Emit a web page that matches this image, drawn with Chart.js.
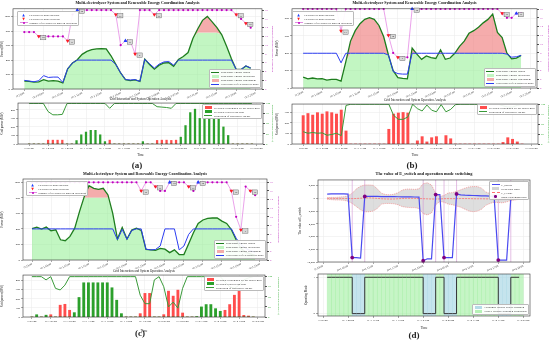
<!DOCTYPE html>
<html lang="en">
<head>
<meta charset="UTF-8">
<title>Multi-electrolyzer System and Renewable Energy Coordination Analysis</title>
<script src="https://cdn.jsdelivr.net/npm/chart.js"></script>
<style>
  html, body { margin: 0; padding: 0; }
  body { position: relative; width: 550px; height: 345px; overflow: hidden; background: #fff; font-family: "Liberation Serif", serif; color: #222; }
  canvas { position: absolute; }
  .tag { position: absolute; font-size: 9px; font-weight: bold; transform: translateX(-50%); line-height: 1; }
  .leg { position: absolute; background: rgba(255,255,255,0.92); border: 0.5px solid #bbb; border-radius: 1px; padding: 0.6px 1.5px; font-size: 2.9px; white-space: nowrap; }
  .leg div { display: flex; align-items: center; height: 4px; }
  .sw { position: relative; flex: none; width: 8px; height: 4px; margin-right: 1.5px; }
  .sw.line::after { content: ""; position: absolute; left: 0; right: 0; top: 1.5px; height: 1.1px; background: var(--c); }
  .sw.dash::after { content: ""; position: absolute; left: 0; right: 0; top: 1.6px; border-top: 0.8px dashed var(--c); }
  .sw.box::after { content: ""; position: absolute; left: 0.5px; right: 0.5px; top: 0.6px; height: 2.8px; background: var(--c); }
  .sw.dotline::after { content: ""; position: absolute; left: 0; right: 0; top: 1.6px; height: 0.8px; background: var(--c); }
  .sw.dotline::before { content: ""; position: absolute; left: 3px; top: 1px; width: 2px; height: 2px; border-radius: 50%; background: #c000c0; z-index: 1; }
  .sw.dot::after { content: ""; position: absolute; left: 2.8px; top: 0.8px; width: 2.4px; height: 2.4px; border-radius: 50%; background: var(--c); }
  .sw.up, .sw.down { color: var(--c); font-family: "DejaVu Sans", sans-serif; font-size: 3.4px; text-align: center; line-height: 4px; }
</style>
</head>
<body>
<canvas id="aTop" width="274" height="99" style="left:0;top:0"></canvas>
<canvas id="aGrid" width="274" height="62" style="left:0;top:95px"></canvas>
<canvas id="bTop" width="275" height="99" style="left:275px;top:0"></canvas>
<canvas id="bGrid" width="275" height="62" style="left:275px;top:95px"></canvas>
<canvas id="cTop" width="280" height="99" style="left:0;top:170px"></canvas>
<canvas id="cGrid" width="280" height="68" style="left:0;top:265px"></canvas>
<canvas id="dTop" width="270" height="104" style="left:280px;top:170px"></canvas>
<canvas id="dMode" width="270" height="62" style="left:280px;top:268px"></canvas>
<div class="tag" style="left:137px;top:161px">(a)</div>
<div class="tag" style="left:412px;top:161px">(b)</div>
<div class="tag" style="left:140px;top:329px">(c)</div>
<div class="tag" style="left:414px;top:331px">(d)</div>
<script>
// time axis labels
const timeTicks = ['D 23:00', 'D+1 03:00', 'D+1 07:00', 'D+1 11:00', 'D+1 15:00', 'D+1 19:00', 'D+1 23:00',
  'D+2 03:00', 'D+2 07:00', 'D+2 11:00', 'D+2 15:00', 'D+2 19:00', 'D+2 23:00'];
const dTimeTicks = ['D 23:00', 'D+1 05:00', 'D+1 11:00', 'D+1 17:00', 'D+1 23:00', 'D+2 05:00', 'D+2 11:00', 'D+2 17:00', 'D+2 23:00'];
const hours = [0, 1, 2, 3, 4, 5, 6, 7, 8, 9, 10, 11, 12, 13, 14, 15, 16, 17, 18, 19, 20, 21, 22, 23,
  24, 25, 26, 27, 28, 29, 30, 31, 32, 33, 34, 35, 36, 37, 38, 39, 40, 41, 42, 43, 44, 45, 46, 47];
const hoursB = hours.slice(0, 47);
const dHours = hours.slice(1);

// (a) renewable output, utilization, electrolyzer power (MW), units in operation
const aGreen = [110, 105, 95, 100, 130, 110, 115, 110, 85, 280, 360, 405, 480, 520, 545, 555, 560, 555, 460, 340,
  222, 130, 115, 125, 105, 415, 340, 275, 330, 360, 365, 315, 410, 450, 505, 700, 830, 950, 1005, 930, 850, 750, 590, 420, 270, 270, 320, 290];
const aUtil = [110, 105, 95, 100, 130, 110, 115, 110, 85, 280, 360, 405, 480, 520, 545, 555, 560, 555, 460, 340,
  222, 130, 115, 125, 105, 415, 340, 275, 330, 360, 365, 315, 410, 450, 505, 700, 780, 780, 780, 780, 780, 750, 590, 420, 270, 270, 320, 290];
const aBlue = [120, 110, 100, 115, 185, 160, 165, 165, 90, 280, 360, 400, 400, 400, 400, 400, 400, 400, 400, 340,
  222, 130, 125, 130, 105, 410, 350, 290, 345, 375, 380, 330, 400, 400, 400, 400, 400, 400, 400, 400, 400, 400, 400, 400, 270, 270, 320, 290];
const aUnits = [13, 13, 13, 12, 12, 12, 12, 12, 12, 11, 17, 18, 18, 18, 18, 18, 18, 18, 18, 17,
  10, 11, 11, 8, 18, 18, 18, 17, 18, 18, 18, 18, 18, 18, 18, 18, 18, 18, 18, 18, 18, 18, 18, 18, 17, 16, 15, 14];
const aUp = [11, 21];
const aDown = [3, 9, 19, 23, 27, 44, 46];
const aBuy = [0, 0, 0, 0, 45, 45, 45, 45, 0, 0, 0, 0, 0, 0, 0, 0, 0, 45, 0, 0,
  0, 0, 0, 0, 0, 0, 0, 42, 45, 45, 42, 45, 0, 0, 0, 0, 0, 0, 0, 0, 0, 0, 0, 0, 0, 0, 0, 0];
const aSell = [0, 0, 0, 0, 0, 0, 0, 0, 0, 0, 40, 108, 140, 160, 160, 108, 28, 0, 0, 0,
  0, 0, 0, 0, 28, 0, 0, 0, 0, 0, 0, 0, 80, 216, 368, 408, 300, 300, 300, 300, 300, 200, 100, 0, 0, 0, 0, 0];
const aShare = [100, 100, 100, 100, 80, 72, 72, 73, 100, 100, 100, 100, 100, 100, 100, 100, 100, 88, 100, 100,
  100, 100, 100, 100, 100, 100, 100, 92, 91, 90, 88, 100, 100, 100, 100, 100, 100, 100, 100, 100, 100, 100, 100, 100, 100, 100, 100, 100];

// (b)
const bGreen = [125, 105, 115, 105, 108, 90, 100, 100, 78, 300, 540, 660, 740, 790, 810, 790, 720, 590, 380, 200,
  120, 110, 105, 460, 390, 330, 370, 350, 340, 440, 330, 345, 400, 480, 540, 630, 660, 700, 750, 790, 850, 640, 580, 400, 335, 345, 375];
const bUtil = [125, 105, 115, 105, 108, 90, 100, 100, 78, 300, 400, 400, 400, 400, 400, 400, 400, 400, 380, 190,
  120, 110, 105, 400, 390, 330, 370, 350, 340, 400, 330, 345, 400, 400, 400, 400, 400, 400, 400, 400, 400, 400, 400, 390, 335, 345, 375];
const bBlue = [400, 400, 400, 400, 400, 400, 400, 400, 290, 400, 400, 400, 400, 400, 400, 400, 400, 400, 380, 190,
  165, 160, 160, 400, 400, 400, 400, 400, 400, 400, 400, 400, 400, 400, 400, 400, 400, 400, 400, 400, 400, 400, 400, 390, 355, 360, 375];
const bUnits = [18, 18, 18, 18, 18, 18, 18, 18, 13, 18, 18, 18, 18, 18, 18, 18, 18, 18, 12, 8,
  7, 7, 7, 18, 18, 18, 18, 18, 18, 18, 18, 18, 18, 18, 18, 18, 18, 18, 18, 18, 18, 18, 17, 16, 16, 17, 17];
const bUp = [23, 45];
const bDown = [8, 18, 20, 42];
const bBuy = [270, 290, 275, 298, 285, 307, 298, 285, 323, 124, 0, 0, 0, 0, 0, 0, 0, 0, 140, 285,
  295, 300, 295, 0, 30, 70, 20, 60, 70, 0, 80, 50, 0, 0, 0, 0, 0, 0, 0, 0, 0, 0, 15, 60, 45, 20, 0];
const bShare = [31, 27, 29, 27, 28, 22, 24, 27, 21, 97, 100, 100, 100, 100, 100, 100, 100, 100, 100, 72,
  62, 62, 68, 100, 89, 83, 98, 85, 81, 99, 81, 87, 99, 100, 100, 100, 100, 100, 100, 100, 100, 100, 96, 93, 93, 97, 100];

// (c)
const cGreen = [405, 423, 397, 423, 376, 389, 260, 248, 303, 410, 623, 815, 956, 922, 909, 922, 837, 600, 270, 420,
  270, 385, 410, 380, 135, 130, 125, 150, 140, 95, 130, 70, 70, 210, 350, 470, 515, 535, 540, 540, 500, 470, 390, 260, 150, 100, 80, 60];
const cUtil = [405, 423, 397, 423, 376, 389, 260, 248, 303, 410, 623, 800, 800, 800, 800, 800, 800, 600, 270, 420,
  270, 385, 410, 380, 135, 130, 125, 150, 140, 95, 130, 70, 70, 210, 350, 470, 515, 535, 540, 540, 500, 470, 390, 260, 150, 100, 80, 60];
const cBlue = [400, 400, 400, 400, 400, 400, 400, 400, 400, 400, 400, 400, 400, 400, 400, 400, 400, 400, 260, 395,
  265, 380, 400, 400, 140, 130, 135, 180, 400, 400, 400, 130, 180, 330, 400, 400, 400, 400, 400, 400, 400, 400, 400, 280, 200, 150, 120, 100];
const cUnits = [18, 18, 18, 18, 18, 18, 18, 18, 18, 18, 18, 18, 18, 18, 18, 18, 18, 18, 18, 18,
  18, 18, 18, 16, 18, 18, 17, 16, 16, 18, 18, 18, 18, 17, 16, 18, 18, 18, 18, 18, 18, 18, 16, 10, 7, 17, 16, 15];
const cUp = [29, 35];
const cDown = [23, 26, 33, 42, 44, 46];
const cBuy = [0, 0, 0, 0, 25, 0, 130, 140, 74, 0, 0, 0, 0, 0, 0, 0, 0, 0, 0, 0,
  0, 0, 0, 37, 260, 260, 0, 0, 26, 285, 230, 296, 44, 0, 0, 0, 0, 0, 0, 0, 0, 74, 137, 240, 290, 18, 11, 0];
const cSell = [0, 25, 0, 20, 0, 0, 0, 0, 0, 48, 215, 377, 377, 377, 377, 377, 377, 322, 185, 37,
  0, 0, 0, 0, 0, 0, 0, 0, 0, 0, 0, 0, 0, 0, 0, 5, 111, 137, 137, 92, 63, 0, 0, 0, 0, 0, 0, 0];
const cShare = [100, 100, 100, 92, 100, 71, 67, 79, 100, 100, 100, 100, 100, 100, 100, 100, 100, 100, 100, 100,
  100, 100, 100, 54, 33, 33, 92, 100, 75, 25, 37, 22, 71, 100, 100, 100, 100, 100, 100, 100, 100, 87, 75, 71, 79, 92, 97, 100];

// (d) E_switch, hysteresis band, E_c and operating mode (hours 1..47)
const dSwitch = [650, 700, 720, 700, 690, 680, -9300, -9300, -9400, 300, 320, 300, 300, 280, 280, 270, 260, 250, 240, 230,
  220, 210, 200, -9800, -9500, -9500, 600, 600, -9300, -9300, -9300, 700, 550, 500, 480, 450, 420, 400, 380, 350,
  300, -9700, -9700, -9700, 0, null, null];
const dUpper = [100, 150, 150, 200, 250, 400, 800, 1500, 1900, 2100, 2100, 2050, 1500, 800, 600, 550, 650, 900, 1300, 1450,
  1450, 1400, 1500, 2300, 2450, 2100, 800, 300, 450, 850, 900, 1100, 1350, 1600, 1800, 1850, 1850, 1600, 1000, 750,
  550, 600, 700, 500, 350, 200, 100];
const dLower = [-150, -200, -250, -250, -300, -450, -800, -1300, -1800, -2100, -2100, -2000, -1600, -900, -800, -800, -850, -1000, -1300, -1400,
  -1450, -1450, -1600, -2400, -2600, -2300, -1000, -500, -600, -900, -1000, -1200, -1400, -1700, -2000, -2100, -2000, -1700, -1100, -800,
  -600, -650, -700, -550, -350, -250, -150];
const dEc = [0, 0, -10, -10, -20, -30, -40, -20, 20, 60, 80, 50, 0, -60, -90, -110, -100, -60, -20, 0,
  10, -10, -30, -50, -80, -100, -110, -90, -60, -40, -50, -40, -30, -30, -40, -60, -70, -60, -80, -90,
  -60, -50, -40, -40, -50, -40, -30];
const dMode = [1, 1, 1, 1, 1, 1, 0, 0, 0, 1, 1, 1, 1, 1, 1, 1, 1, 1, 1, 1,
  1, 1, 1, 0, 0, 0, 1, 1, 0, 0, 0, 1, 1, 1, 1, 1, 1, 1, 1, 1,
  1, 0, 0, 0, 1, 1, 1];
const dMarkHours = [7, 10, 24, 27, 29, 32, 41, 42];

const C = {
  green: '#1e7d1e', util: 'rgba(144,238,144,0.55)', curt: 'rgba(240,128,128,0.65)', blue: '#2b3cf0',
  units: '#e58ae5', unitsDot: '#c000c0', up: '#1f3fff', down: '#ff2020',
  buy: '#ff4d4d', sell: '#2ca02c', share: '#3a9a3a', mag: '#c03cc0', shareTxt: '#33aa33'
};

Chart.defaults.font.family = 'Liberation Serif';
Chart.defaults.color = '#222';

const pts = (xs, ys) => ys.map((y, i) => ({ x: xs[i], y }));
const marks = (xs, ys, at) => at.map(h => ({ x: h, y: ys[xs.indexOf(h)] }));
const range = (a, b, s) => { const r = []; for (let v = a; v <= b + 1e-9; v += s) r.push(+v.toFixed(6)); return r; };

// frame around the plot area
const framePlugin = {
  id: 'frame',
  afterDatasetsDraw(chart) {
    const a = chart.chartArea, ctx = chart.ctx;
    ctx.save();
    ctx.strokeStyle = '#333';
    ctx.lineWidth = 0.6;
    ctx.strokeRect(a.left, a.top, a.right - a.left, a.bottom - a.top);
    ctx.restore();
  }
};
// small grey boxes with the unit count next to each marker
const boxPlugin = {
  id: 'unitBoxes',
  afterDatasetsDraw(chart) {
    const ctx = chart.ctx;
    chart.data.datasets.forEach((ds, i) => {
      if (!ds.boxed) return;
      chart.getDatasetMeta(i).data.forEach((p, j) => {
        const x = p.x + 4.5, y = p.y + 1.2;
        ctx.save();
        ctx.fillStyle = '#d8d8d8';
        ctx.strokeStyle = '#555';
        ctx.lineWidth = 0.4;
        ctx.fillRect(x - 2.6, y - 2.2, 5.2, 4.4);
        ctx.strokeRect(x - 2.6, y - 2.2, 5.2, 4.4);
        ctx.fillStyle = '#111';
        ctx.font = '2.5px "Liberation Serif"';
        ctx.textAlign = 'center';
        ctx.textBaseline = 'middle';
        ctx.fillText(String(ds.data[j].y), x, y + 0.2);
        ctx.restore();
      });
    });
  }
};
// vertical marks at the mode switching times
const vlinePlugin = {
  id: 'vlines',
  beforeDatasetsDraw(chart, args, opts) {
    if (!opts || !opts.at) return;
    const ctx = chart.ctx, a = chart.chartArea, xs = chart.scales.x;
    ctx.save();
    ctx.strokeStyle = opts.color;
    ctx.lineWidth = 0.7;
    opts.at.forEach(h => {
      const px = xs.getPixelForValue(h);
      ctx.beginPath(); ctx.moveTo(px, a.top); ctx.lineTo(px, a.bottom); ctx.stroke();
    });
    ctx.restore();
  }
};
Chart.register(framePlugin, boxPlugin, vlinePlugin);

function xAxis(min, max, step, labels, rot, height, showTitle) {
  return {
    type: 'linear', min, max, offset: false,
    afterBuildTicks: s => { s.ticks = labels.map((_, k) => ({ value: k * step })); },
    ticks: { autoSkip: false, maxRotation: rot, minRotation: rot, padding: 0.5, font: { size: 2.8 }, color: '#222',
      callback: (v, i) => labels[i] },
    grid: { color: '#e9e9e9', lineWidth: 0.5, tickLength: 2, tickColor: '#555', offset: false },
    border: { display: false },
    title: { display: showTitle, text: 'Time', font: { size: 3.2 }, color: '#222', padding: { top: 0.5, bottom: 0 } },
    afterFit: s => { s.height = height; s.paddingLeft = 0; s.paddingRight = 0; }
  };
}
function yAxis(o) {
  return {
    position: o.pos, min: o.min, max: o.max,
    afterBuildTicks: s => { s.ticks = o.ticks.map(v => ({ value: v })); },
    ticks: { font: { size: 2.8 }, color: o.color || '#222', padding: 1, callback: o.fmt || (v => String(v)) },
    grid: o.grid ? { color: '#e9e9e9', lineWidth: 0.5, tickLength: 2, tickColor: '#555' }
                 : { drawOnChartArea: false, tickLength: 2, tickColor: '#555' },
    border: { display: false },
    title: { display: !!o.title, text: o.title, font: { size: o.tsize || 3 }, color: o.color || '#222', padding: { top: 0, bottom: 0.5 } },
    afterFit: s => { s.width = o.w; s.paddingTop = 0; s.paddingBottom = 0; }
  };
}
function baseOptions(pad, title, tsize, bold, scales, extra) {
  return {
    responsive: false, animation: false, devicePixelRatio: 1,
    layout: { padding: pad },
    plugins: Object.assign({
      legend: { display: false }, tooltip: { enabled: false },
      filler: { drawTime: 'beforeDatasetsDraw' },
      title: { display: !!title, text: title, fullSize: false, color: '#111',
        font: { size: tsize, weight: bold ? 'bold' : 'normal' }, padding: { top: 0, bottom: bold ? 3 : 2 } }
    }, extra || {}),
    scales
  };
}

const mainTitle = 'Multi-electrolyzer System and Renewable Energy Coordination Analysis';
const gridTitle = 'Grid Interaction and System Operation Analysis';

function energyChart(id, o) {
  new Chart(document.getElementById(id), {
    type: 'line',
    data: { datasets: [
      { label: 'Renewable energy utilization', data: pts(o.x, o.util), borderWidth: 0, pointRadius: 0,
        backgroundColor: C.util, fill: 'origin', order: 6 },
      { label: 'Renewable energy output', data: pts(o.x, o.green), borderColor: C.green, borderWidth: 1.3, pointRadius: 0,
        backgroundColor: C.curt, fill: { target: 0, above: C.curt, below: 'rgba(0,0,0,0)' }, order: 5 },
      { label: 'Total power of electrolyzer units', data: pts(o.x, o.blue), borderColor: C.blue, borderWidth: 1,
        pointRadius: 0, fill: false, order: 4 },
      { label: 'Number of electrolyzer units in operation', yAxisID: 'y1', data: pts(o.x, o.units), borderColor: C.units,
        borderWidth: 0.8, pointRadius: 1.1, pointBackgroundColor: C.unitsDot, pointBorderWidth: 0, fill: false, clip: false, order: 3 },
      { label: 'Electrolyzer units decrease', yAxisID: 'y1', data: marks(o.x, o.units, o.down), showLine: false,
        pointStyle: 'triangle', pointRotation: 180, pointRadius: 2.2, pointBackgroundColor: C.down, pointBorderWidth: 0,
        clip: false, boxed: true, order: 2 },
      { label: 'Electrolyzer units increase', yAxisID: 'y1', data: marks(o.x, o.units, o.up), showLine: false,
        pointStyle: 'triangle', pointRadius: 2.2, pointBackgroundColor: C.up, pointBorderWidth: 0,
        clip: false, boxed: true, order: 1 }
    ]},
    options: baseOptions({ top: o.padTop, left: 0, right: 0, bottom: 0 }, mainTitle, 4, true, {
      x: xAxis(o.xMin, o.xMax, 4, timeTicks, 25, o.xH, false),
      y: yAxis({ pos: 'left', min: 0, max: o.yMax, ticks: range(0, o.yMax, 200), w: o.leftW, title: 'Power (MW)', grid: true }),
      y1: yAxis({ pos: 'right', min: 0, max: o.y1Max, ticks: range(0, 18, 2), w: o.rightW, color: C.mag,
        title: 'Number of electrolyzer units in operation', tsize: 2.8 })
    })
  });
}

function gridChart(id, o) {
  const sets = [
    { type: 'line', label: 'Proportion of renewable energy', yAxisID: 'y1', data: pts(o.x, o.share), borderColor: C.share,
      borderWidth: 1, pointRadius: 0, fill: false, order: 0 },
    { type: 'bar', label: 'Electricity purchased by the power grid', data: pts(o.x, o.buy), backgroundColor: C.buy,
      barThickness: o.bw, grouped: false, order: 2 }
  ];
  if (o.sell) sets.push({ type: 'bar', label: 'Electricity sold to the grid', data: pts(o.x, o.sell),
    backgroundColor: C.sell, barThickness: o.bw, grouped: false, order: 1 });
  new Chart(document.getElementById(id), {
    type: 'bar',
    data: { datasets: sets },
    options: baseOptions({ top: o.padTop, left: 0, right: 0, bottom: 0 }, gridTitle, 3.2, false, {
      x: xAxis(o.xMin, o.xMax, 4, timeTicks, 0, o.xH, true),
      y: yAxis({ pos: 'left', min: 0, max: o.yMax, ticks: range(0, o.yMax, 100), w: o.leftW, title: 'Grid power (MW)', grid: true }),
      y1: yAxis({ pos: 'right', min: 0, max: o.y1Max, ticks: range(0, 100, 25), w: o.rightW, color: C.shareTxt,
        title: 'Proportion of renewable energy (%)', tsize: 2.6 })
    })
  });
}

energyChart('aTop', { x: hours, green: aGreen, util: aUtil, blue: aBlue, units: aUnits, up: aUp, down: aDown,
  padTop: 1, xMin: -2.35, xMax: 49.35, xH: 10, yMax: 1110, y1Max: 18.3, leftW: 13, rightW: 12 });
gridChart('aGrid', { x: hours, buy: aBuy, sell: aSell, share: aShare, bw: 1.6,
  padTop: 2.2, xMin: -2.35, xMax: 49.35, xH: 13, yMax: 480, y1Max: 101, leftW: 18, rightW: 11 });
energyChart('bTop', { x: hoursB, green: bGreen, util: bUtil, blue: bBlue, units: bUnits, up: bUp, down: bDown,
  padTop: 1, xMin: -2.35, xMax: 49.35, xH: 11, yMax: 912, y1Max: 18.05, leftW: 17, rightW: 13 });
gridChart('bGrid', { x: hoursB, buy: bBuy, share: bShare, bw: 2.3,
  padTop: 3.2, xMin: -2.35, xMax: 49.35, xH: 13, yMax: 380, y1Max: 100.5, leftW: 17, rightW: 12 });
energyChart('cTop', { x: hours, green: cGreen, util: cUtil, blue: cBlue, units: cUnits, up: cUp, down: cDown,
  padTop: 1.2, xMin: -1.9, xMax: 49.5, xH: 9, yMax: 1042, y1Max: 18.76, leftW: 23, rightW: 13 });
gridChart('cGrid', { x: hours, buy: cBuy, sell: cSell, share: cShare, bw: 2.2,
  padTop: 4.2, xMin: -1.9, xMax: 49.5, xH: 16, yMax: 462, y1Max: 104, leftW: 23, rightW: 15 });

// (d) top: E_switch with hysteresis band
const dChange = dHours.filter((h, i) => i > 0 && dMode[i] !== dMode[i - 1]);
new Chart(document.getElementById('dTop'), {
  type: 'line',
  data: { datasets: [
    { label: 'Hysteresis band upper', data: pts(dHours, dUpper), borderColor: '#f08080', borderDash: [1.2, 0.8],
      borderWidth: 0.6, pointRadius: 0, fill: false, order: 4 },
    { label: 'Hysteresis band', data: pts(dHours, dLower), borderColor: '#f08080', borderDash: [1.2, 0.8],
      borderWidth: 0.6, pointRadius: 0, backgroundColor: 'rgba(200,200,200,0.6)', fill: '-1', order: 3 },
    { label: 'E_c value', data: pts(dHours, dEc), borderColor: '#ff6f6f', borderDash: [2, 1], borderWidth: 0.8,
      pointRadius: 0, fill: false, order: 2 },
    { label: 'E_switch', data: pts(dHours, dSwitch), borderColor: '#4a4af0', borderWidth: 1.2, pointRadius: 0,
      fill: false, order: 1 },
    { label: 'Mode switching point', data: marks(dHours, dSwitch, dMarkHours), showLine: false, pointRadius: 1.9,
      pointBackgroundColor: '#800080', pointBorderWidth: 0, clip: false, order: 0 }
  ]},
  options: baseOptions({ top: 1.8, left: 18, right: 20, bottom: 0 }, 'The value of E_switch and operation mode switching', 4.3, true, {
    x: xAxis(-1.2, 49.6, 6, dTimeTicks, 22, 12, false),
    y: yAxis({ pos: 'left', min: -10000, max: 2890, ticks: range(-10000, 2000, 2000), w: 20, title: 'The value of E_switch',
      grid: true, fmt: v => v.toLocaleString('en-US') })
  }, { vlines: { at: dChange, color: '#d9a3d9' } })
});

// (d) bottom: operating mode with shaded periods
const modeLo = -0.065, modeHi = 1.09;
new Chart(document.getElementById('dMode'), {
  type: 'bar',
  data: { datasets: [
    { type: 'line', label: 'Operating Mode', data: pts(dHours, dMode), stepped: 'before', borderColor: '#333',
      borderWidth: 1, pointRadius: 0, fill: false, order: 0 },
    { label: 'Power-Driven Hydrogen Production', data: dHours.filter((h, i) => dMode[i] === 1).map(h => ({ x: h + 0.5, y: [modeLo, modeHi] })),
      backgroundColor: 'rgba(152,236,152,0.55)', categoryPercentage: 1, barPercentage: 1, grouped: false, order: 2 },
    { label: 'Hydrogen-Driven Power Dispatch', data: dHours.filter((h, i) => dMode[i] === 0).map(h => ({ x: h + 0.5, y: [modeLo, modeHi] })),
      backgroundColor: 'rgba(173,216,230,0.7)', categoryPercentage: 1, barPercentage: 1, grouped: false, order: 1 }
  ]},
  options: baseOptions({ top: 6, left: 24, right: 20, bottom: 0 }, '', 3, false, {
    x: xAxis(-1.2, 49.6, 6, dTimeTicks, 0, 14, true),
    y: yAxis({ pos: 'left', min: modeLo, max: modeHi, ticks: [0, 1], w: 14, title: 'Operating Mode', grid: true })
  })
});

// legends
function legend(pos, items) {
  const d = document.createElement('div');
  d.className = 'leg';
  Object.keys(pos).forEach(k => { d.style[k] = pos[k] + 'px'; });
  items.forEach(([kind, color, text]) => {
    const row = document.createElement('div');
    const sw = document.createElement('span');
    sw.className = 'sw ' + kind;
    sw.style.setProperty('--c', color);
    if (kind === 'up') sw.textContent = '\u25B2';
    if (kind === 'down') sw.textContent = '\u25BC';
    row.appendChild(sw);
    row.appendChild(document.createTextNode(text));
    d.appendChild(row);
  });
  document.body.appendChild(d);
}
const unitItems = [['up', C.up, 'Electrolyzer units increase'], ['down', C.down, 'Electrolyzer units decrease'],
  ['dotline', C.units, 'Number of electrolyzer units in operation']];
const energyItems = [['line', C.green, 'Renewable energy output'], ['box', C.util, 'Renewable energy utilization'],
  ['box', C.curt, 'Renewable energy curtailment'], ['line', C.blue, 'Total power of electrolyzer units']];
const gridItems = [['box', C.buy, 'Electricity purchased by the power grid'], ['box', C.sell, 'Electricity sold to the grid'],
  ['line', C.share, 'Proportion of renewable energy']];
legend({ left: 17, top: 11 }, unitItems);
legend({ right: 289, bottom: 257 }, energyItems);
legend({ right: 288, top: 104 }, gridItems);
legend({ left: 292, top: 11 }, unitItems);
legend({ right: 14, bottom: 258 }, energyItems);
legend({ right: 13, top: 104 }, [gridItems[0], gridItems[2]]);
legend({ left: 26, top: 181 }, unitItems);
legend({ right: 284, bottom: 86 }, energyItems);
legend({ right: 286, top: 276 }, gridItems);
legend({ right: 21, top: 181 }, [['line', '#4a4af0', 'E_switch'], ['box', 'rgba(200,200,200,0.8)', 'Hysteresis band'],
  ['dash', '#ff6f6f', 'E_c value'], ['dot', '#800080', 'Mode switching point']]);
legend({ right: 21, bottom: 30 }, [['box', 'rgba(173,216,230,0.9)', 'Hydrogen-Driven Power Dispatch'],
  ['box', 'rgba(152,236,152,0.7)', 'Power-Driven Hydrogen Production']]);
</script>
</body>
</html>
